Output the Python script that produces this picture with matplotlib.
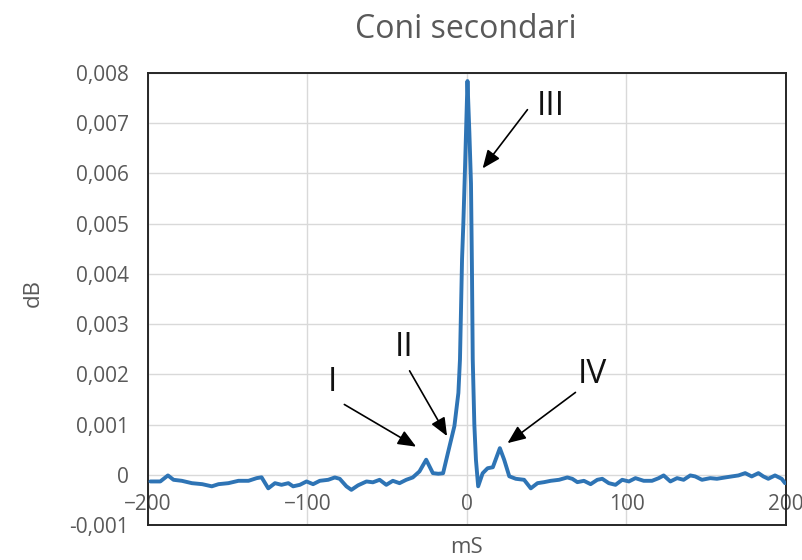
import matplotlib
matplotlib.use("Agg")
import matplotlib.pyplot as plt
from matplotlib.ticker import FuncFormatter

# ---- data ----
x_ms = [-198.5, -192.3, -187.5, -184.0, -178.8, -172.5, -166.0, -160.0, -155.8, -149.6,
        -143.3, -137.0, -131.9, -128.8, -124.6, -120.4, -116.3, -112.0, -109.0, -104.8,
        -100.6, -96.5, -92.3, -87.0, -82.9, -79.8, -75.6, -72.5, -68.3, -63.0,
        -59.0, -54.8, -50.6, -46.5, -42.3, -38.1, -34.0, -29.8, -25.6, -21.4,
        -18.0, -15.0, -12.0, -7.9, -5.4, -4.4, -3.1, -2.3, -1.25, 0.3,
        1.5, 2.5, 3.1, 3.6, 4.6, 5.6, 7.0, 9.8, 12.9, 16.2,
        20.6, 23.3, 26.5, 30.6, 35.8, 40.0, 44.2, 48.3, 52.5, 57.7,
        62.9, 66.0, 69.2, 73.3, 77.5, 81.7, 84.8, 88.9, 93.1, 97.3,
        101.5, 105.6, 110.8, 116.0, 120.2, 123.3, 127.5, 131.7, 135.8, 140.0,
        143.1, 147.3, 152.5, 156.7, 161.9, 166.0, 170.2, 174.4, 178.5, 182.7,
        185.8, 188.9, 193.1, 197.3, 199.4]
y_db = [-0.000133, -0.000133, -0.000013, -0.00010, -0.00012, -0.000167, -0.000187, -0.00023, -0.000187, -0.000167,
        -0.00012, -0.00012, -0.000067, -0.00005, -0.00027, -0.000167, -0.00020, -0.000167, -0.00023, -0.00020,
        -0.000133, -0.000187, -0.00012, -0.00010, -0.000053, -0.00008, -0.00023, -0.00030, -0.00021, -0.000133,
        -0.00015, -0.00010, -0.00020, -0.00012, -0.000167, -0.00010, -0.000053, 0.000067, 0.00030, 0.000033,
        0.00002, 0.00003, 0.00043, 0.00097, 0.00163, 0.0023, 0.0043, 0.0050, 0.0061, 0.00784,
        0.0068, 0.0058, 0.0041, 0.0023, 0.0010, 0.0003, -0.00023, 0.00003, 0.00013, 0.00015,
        0.00053, 0.00030, -0.00003, -0.00008, -0.00010, -0.00027, -0.000167, -0.000147, -0.00012, -0.00010,
        -0.000053, -0.00008, -0.000147, -0.00012, -0.000187, -0.00010, -0.00008, -0.000167, -0.00020, -0.00010,
        -0.000133, -0.000067, -0.00012, -0.00012, -0.000067, -0.000013, -0.000133, -0.000067, -0.00010, -0.000013,
        -0.000033, -0.00010, -0.000067, -0.00008, -0.000053, -0.000033, -0.000013, 0.000033, -0.000033, 0.000033,
        -0.000033, -0.00008, -0.000013, -0.00008, -0.000167]

x_ticks = [-200, -100, 0, 100, 200]
y_ticks = [-0.001, 0, 0.001, 0.002, 0.003, 0.004, 0.005, 0.006, 0.007, 0.008]

ann_labels = ["I", "II", "III", "IV"]
ann_text_xy = [(-84.4, 0.00184), (-39.2, 0.00253), (52.5, 0.00733), (78.8, 0.0020)]
ann_tail_xy = [(-76.9, 0.00140), (-36.0, 0.00207), (37.9, 0.00727), (68.0, 0.00164)]
ann_tip_xy = [(-31.9, 0.00056), (-12.5, 0.00077), (9.8, 0.00610), (25.4, 0.00063)]

title = "Coni secondari"
x_label = "mS"
y_label = "dB"

# ---- figure ----
plt.rcParams['font.family'] = ['Open Sans', 'DejaVu Sans']
fig = plt.figure(figsize=(8.03, 5.60), dpi=100)
W, H = 803, 560
ax = fig.add_axes([148 / W, 1 - 525 / H, (786 - 148) / W, (525 - 73) / H])

gray = '#595959'
ax.plot(x_ms, y_db, color='#2E74B5', lw=2.8, solid_joinstyle='round',
        solid_capstyle='round', zorder=3)

ax.set_xlim(-200, 200)
ax.set_ylim(-0.001, 0.008)
ax.set_xticks(x_ticks)
ax.set_yticks(y_ticks)
ax.grid(True, color='#D9D9D9', lw=1.0, zorder=0)
ax.set_axisbelow(True)

def yfmt(v, pos):
    if abs(v) < 1e-12:
        return "0"
    return f"{v:.3f}".replace(".", ",")

ax.yaxis.set_major_formatter(FuncFormatter(yfmt))
ax.tick_params(axis='y', length=0, pad=14, labelsize=15, labelcolor=gray)
ax.tick_params(axis='x', length=0, pad=-22.5, labelsize=15, labelcolor=gray)

for s in ax.spines.values():
    s.set_color('#262626')
    s.set_linewidth(1.4)

fig.text(466 / W, 1 - 29 / H, title, ha='center', va='center', fontsize=23, color=gray)
ax.set_ylabel(y_label, fontsize=16, color=gray)
ax.yaxis.set_label_coords((44 - 148) / (786 - 148), (525 - 293) / (525 - 73))
ax.set_xlabel(x_label, fontsize=16, color=gray)
ax.xaxis.set_label_coords(0.5, (525 - 537) / (525 - 73))

for lab, txy, tail, tip in zip(ann_labels, ann_text_xy, ann_tail_xy, ann_tip_xy):
    ax.text(txy[0], txy[1], lab, ha='center', va='center', fontsize=24, color='#111111', zorder=5)
    ax.annotate('', xy=tip, xytext=tail,
                arrowprops=dict(arrowstyle='-|>,head_length=1.0,head_width=0.42', color='black',
                                lw=1.2, shrinkA=0, shrinkB=0, mutation_scale=11),
                zorder=5)

fig.savefig('out.png', dpi=100)
